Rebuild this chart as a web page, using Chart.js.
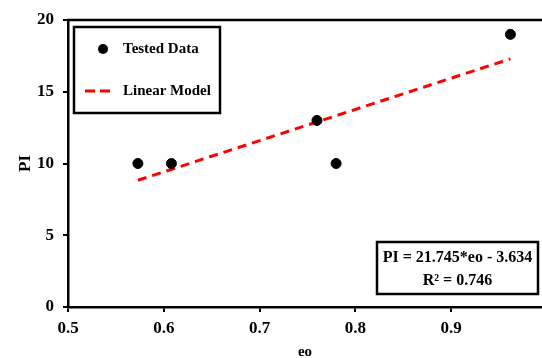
<!DOCTYPE html>
<html lang="en">
<head>
  <meta charset="UTF-8" />
  <title>PI vs eo</title>
  <script src="https://cdn.jsdelivr.net/npm/chart.js"></script>
  <style>
    body { margin: 0; background: #fff; }
    #wrap { width: 542px; height: 358px; position: relative; }
  </style>
</head>
<body>
  <div id="wrap"><canvas id="piChart"></canvas></div>
  <script>
    // tested data
    const eoValues = [0.573, 0.608, 0.760, 0.780, 0.962];
    const piValues = [10, 10, 13, 10, 19];

    // linear model endpoints
    const modelEo = [0.573, 0.962];
    const modelPi = [8.83, 17.29];

    const xTicks = [0.5, 0.6, 0.7, 0.8, 0.9];
    const yTicks = [0, 5, 10, 15, 20];

    const serif = "'Liberation Serif', 'Times New Roman', serif";

    // legend box + equation box drawn on top
    const boxes = {
      id: 'boxes',
      afterDraw(chart) {
        const ctx = chart.ctx;
        const a = chart.chartArea;
        ctx.save();
        // top frame line
        ctx.strokeStyle = '#000';
        ctx.lineWidth = 2.5;
        ctx.beginPath();
        ctx.moveTo(a.left - 1, a.top);
        ctx.lineTo(chart.width, a.top);
        ctx.stroke();

        // legend
        const lx = a.left + 6, ly = a.top + 7;
        ctx.strokeRect(lx, ly, 146, 86);
        ctx.fillStyle = '#000';
        ctx.beginPath();
        ctx.arc(lx + 29, ly + 22, 5, 0, Math.PI * 2);
        ctx.fill();
        ctx.strokeStyle = '#ff0000';
        ctx.lineWidth = 3;
        ctx.setLineDash([10, 5]);
        ctx.beginPath();
        ctx.moveTo(lx + 11, ly + 64);
        ctx.lineTo(lx + 38, ly + 64);
        ctx.stroke();
        ctx.setLineDash([]);
        ctx.font = 'bold 15px ' + serif;
        ctx.textBaseline = 'middle';
        ctx.textAlign = 'left';
        ctx.fillText('Tested Data', lx + 49, ly + 22);
        ctx.fillText('Linear Model', lx + 49, ly + 64);

        // equation
        ctx.strokeStyle = '#000';
        ctx.lineWidth = 2.5;
        ctx.strokeRect(377, 242, 161, 52);
        ctx.font = 'bold 16px ' + serif;
        ctx.textAlign = 'center';
        ctx.fillText('PI = 21.745*eo - 3.634', 457.5, 258);
        ctx.fillText('R\u00B2 = 0.746', 457.5, 281);
        ctx.restore();
      }
    };

    const tickFont = { family: serif, size: 17, weight: 'bold' };

    new Chart(document.getElementById('piChart'), {
      type: 'scatter',
      data: {
        datasets: [
          {
            label: 'Tested Data',
            data: eoValues.map((x, i) => ({ x, y: piValues[i] })),
            backgroundColor: '#000',
            borderColor: '#000',
            pointRadius: 5,
            pointHoverRadius: 5
          },
          {
            label: 'Linear Model',
            data: modelEo.map((x, i) => ({ x, y: modelPi[i] })),
            showLine: true,
            borderColor: '#ff0000',
            borderWidth: 3,
            borderDash: [9, 6],
            pointRadius: 0
          }
        ]
      },
      options: {
        responsive: true,
        maintainAspectRatio: false,
        animation: false,
        layout: { autoPadding: false, padding: { top: 20, right: 0, left: 0, bottom: 0 } },
        plugins: { legend: { display: false }, tooltip: { enabled: false } },
        scales: {
          x: {
            type: 'linear',
            min: 0.5,
            max: 0.995,
            afterBuildTicks: s => { s.ticks = xTicks.map(v => ({ value: v })); },
            afterFit: s => { s.height = 51; },
            ticks: { font: tickFont, color: '#000', padding: 6, callback: v => v.toFixed(1) },
            grid: { drawOnChartArea: false, drawTicks: true, tickLength: 5, color: '#000', lineWidth: 2 },
            border: { display: true, color: '#000', width: 2.5 },
            title: {
              display: true, text: 'eo', color: '#000',
              font: { family: serif, size: 15, weight: 'bold', lineHeight: 0.8 },
              padding: 0
            }
          },
          y: {
            min: 0,
            max: 20,
            afterBuildTicks: s => { s.ticks = yTicks.map(v => ({ value: v })); },
            afterFit: s => { s.width = 68; },
            ticks: { font: tickFont, color: '#000', padding: 9 },
            grid: { drawOnChartArea: false, drawTicks: true, tickLength: 5, color: '#000', lineWidth: 2 },
            border: { display: true, color: '#000', width: 2.5 },
            title: {
              display: true, text: 'PI', color: '#000',
              font: { family: serif, size: 17, weight: 'bold' },
              padding: { top: 15, bottom: 0 }
            }
          }
        }
      },
      plugins: [boxes]
    });
  </script>
</body>
</html>
